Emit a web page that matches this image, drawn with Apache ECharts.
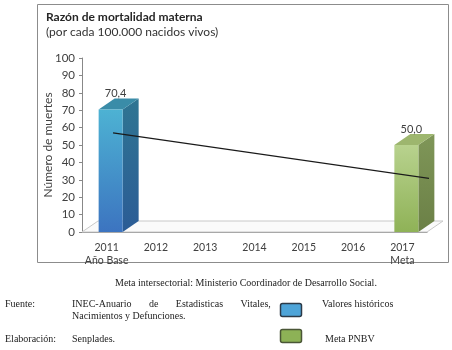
<!DOCTYPE html>
<html>
<head>
<meta charset="utf-8">
<script src="https://cdn.jsdelivr.net/npm/echarts@6/dist/echarts.min.js"></script>
<style>
  html, body { margin: 0; padding: 0; background: #fff; }
  #chart { width: 452px; height: 350px; }
</style>
</head>
<body>
<div id="chart"></div>
<script>
const years = ['2011', '2012', '2013', '2014', '2015', '2016', '2017']
const subLabels = ['Año Base', '', '', '', '', '', 'Meta']
const historico = [70.4, null, null, null, null, null, null]
const meta = [null, null, null, null, null, null, 50.0]
// trend line, x in category units (0 = left edge of axis)
const trendPoints = [[0.63, 57], [7.12, 30.5]]

const font = 'Lato, "Open Sans", sans-serif'
const serif = '"Liberation Serif", "DejaVu Serif", serif'

// depth of the fake 3d
const DX = 16
const DY = -11

const bar3d = (colors) => (params, api) => {
  const v = api.value(1)
  if (v == null || isNaN(v)) return
  const base = api.coord([api.value(0), 0])
  const top = api.coord([api.value(0), v])
  const w = 24
  const x0 = base[0] - 8
  const x1 = x0 + w
  const yb = base[1]
  const yt = top[1]
  return {
    type: 'group',
    children: [
      {
        type: 'polygon',
        shape: { points: [[x1, yt], [x1 + DX, yt + DY], [x1 + DX, yb + DY], [x1, yb]] },
        style: { fill: new echarts.graphic.LinearGradient(0, 0, 0, 1, [
          { offset: 0, color: colors.side[0] }, { offset: 1, color: colors.side[1] }]) }
      },
      {
        type: 'polygon',
        shape: { points: [[x0, yt], [x0 + DX, yt + DY], [x1 + DX, yt + DY], [x1, yt]] },
        style: { fill: colors.top }
      },
      {
        type: 'rect',
        shape: { x: x0, y: yt, width: w, height: yb - yt },
        style: { fill: new echarts.graphic.LinearGradient(0, 0, 0, 1, [
          { offset: 0, color: colors.front[0] }, { offset: 1, color: colors.front[1] }]) }
      },
      {
        type: 'text',
        style: {
          text: v.toFixed(1).replace('.', ','),
          x: x0 + w / 2 + 5, y: yt + DY - 5,
          align: 'center', verticalAlign: 'middle',
          font: '11px ' + font, fill: '#404040'
        }
      }
    ]
  }
}

const floor = (params, api) => {
  const cs = params.coordSys
  const l = cs.x, r = cs.x + cs.width, b = cs.y + cs.height
  return {
    type: 'polygon',
    shape: { points: [[l, b], [l + DX, b + DY], [r + DX, b + DY], [r, b]] },
    style: { fill: '#fafafa', stroke: '#c8c8c8', lineWidth: 1 }
  }
}

const chart = echarts.init(document.getElementById('chart'))
chart.setOption({
  animation: false,
  title: {
    text: 'Razón de mortalidad materna',
    subtext: '(por cada 100.000 nacidos vivos)',
    left: 41, top: 6, itemGap: 3,
    textStyle: { fontFamily: font, fontSize: 12, fontWeight: 'bold', color: '#262626' },
    subtextStyle: { fontFamily: font, fontSize: 12, color: '#333' }
  },
  grid: { left: 82, right: 25, top: 58, bottom: 118 },
  xAxis: [
    {
      type: 'category',
      data: years,
      axisLine: { lineStyle: { color: '#888' } },
      axisTick: { length: 5, lineStyle: { color: '#888' } },
      axisLabel: {
        interval: 0,
        margin: 9,
        color: '#404040',
        fontFamily: font,
        fontSize: 10.5,
        lineHeight: 13,
        verticalAlign: 'top',
        formatter: (val, i) => subLabels[i] ? val + '\n' + subLabels[i] : val
      }
    },
    { type: 'value', min: 0, max: 7, show: false, position: 'bottom' }
  ],
  yAxis: {
    type: 'value',
    min: 0, max: 100, interval: 10,
    name: 'Número de muertes',
    nameLocation: 'middle',
    nameGap: 28,
    nameMoveOverlap: false,
    nameTextStyle: { fontFamily: font, fontSize: 12, color: '#404040' },
    axisLine: { show: true, lineStyle: { color: '#888' } },
    axisTick: { show: true, length: 3, lineStyle: { color: '#888' } },
    axisLabel: { margin: 7, color: '#404040', fontFamily: font, fontSize: 11.5 },
    splitLine: { show: false }
  },
  series: [
    {
      type: 'custom', name: 'floor', data: [0], renderItem: floor, silent: true, z: 1
    },
    {
      type: 'custom', name: 'Valores históricos', z: 3,
      data: historico.map((v, i) => [i, v]),
      renderItem: bar3d({ front: ['#4db2d3', '#3c74c0'], side: ['#2f7592', '#2b5c96'], top: '#3a8ca8' })
    },
    {
      type: 'custom', name: 'Meta PNBV', z: 3,
      data: meta.map((v, i) => [i, v]),
      renderItem: bar3d({ front: ['#b8d28e', '#8fb257'], side: ['#7f9658', '#6b8046'], top: '#9db66e' })
    },
    {
      type: 'line', xAxisIndex: 1, data: trendPoints, clip: false, z: 5,
      symbol: 'none', lineStyle: { color: '#1a1a1a', width: 1.2 }
    }
  ],
  graphic: [
    { type: 'rect', shape: { x: 37.5, y: 4.5, width: 411, height: 258 }, style: { fill: 'none', stroke: '#8c8c8c', lineWidth: 1 }, z: -1 },
    { type: 'text', left: 115, top: 278, style: { text: 'Meta intersectorial: Ministerio Coordinador de Desarrollo Social.', font: '10px ' + serif, fill: '#222' } },
    { type: 'text', left: 5, top: 299, style: { text: 'Fuente:', font: '10px ' + serif, fill: '#222' } },
    { type: 'text', left: 72, top: 299, style: { text: 'INEC-Anuario       de       Estadisticas       Vitales,', font: '10px ' + serif, fill: '#222' } },
    { type: 'text', left: 72, top: 311, style: { text: 'Nacimientos y Defunciones.', font: '10px ' + serif, fill: '#222' } },
    { type: 'text', left: 5, top: 334, style: { text: 'Elaboración:', font: '10px ' + serif, fill: '#222' } },
    { type: 'text', left: 72, top: 334, style: { text: 'Senplades.', font: '10px ' + serif, fill: '#222' } },
    { type: 'rect', shape: { x: 280.5, y: 303.5, width: 21, height: 13, r: 2 }, style: { fill: '#4ea4d8', stroke: '#2c3a48', lineWidth: 1.5 } },
    { type: 'rect', shape: { x: 280.5, y: 329.5, width: 21, height: 13, r: 2 }, style: { fill: '#8db256', stroke: '#4a5636', lineWidth: 1.5 } },
    { type: 'text', left: 322, top: 299, style: { text: 'Valores históricos', font: '10px ' + serif, fill: '#222' } },
    { type: 'text', left: 325, top: 334, style: { text: 'Meta PNBV', font: '10px ' + serif, fill: '#222' } }
  ]
})
</script>
</body>
</html>
